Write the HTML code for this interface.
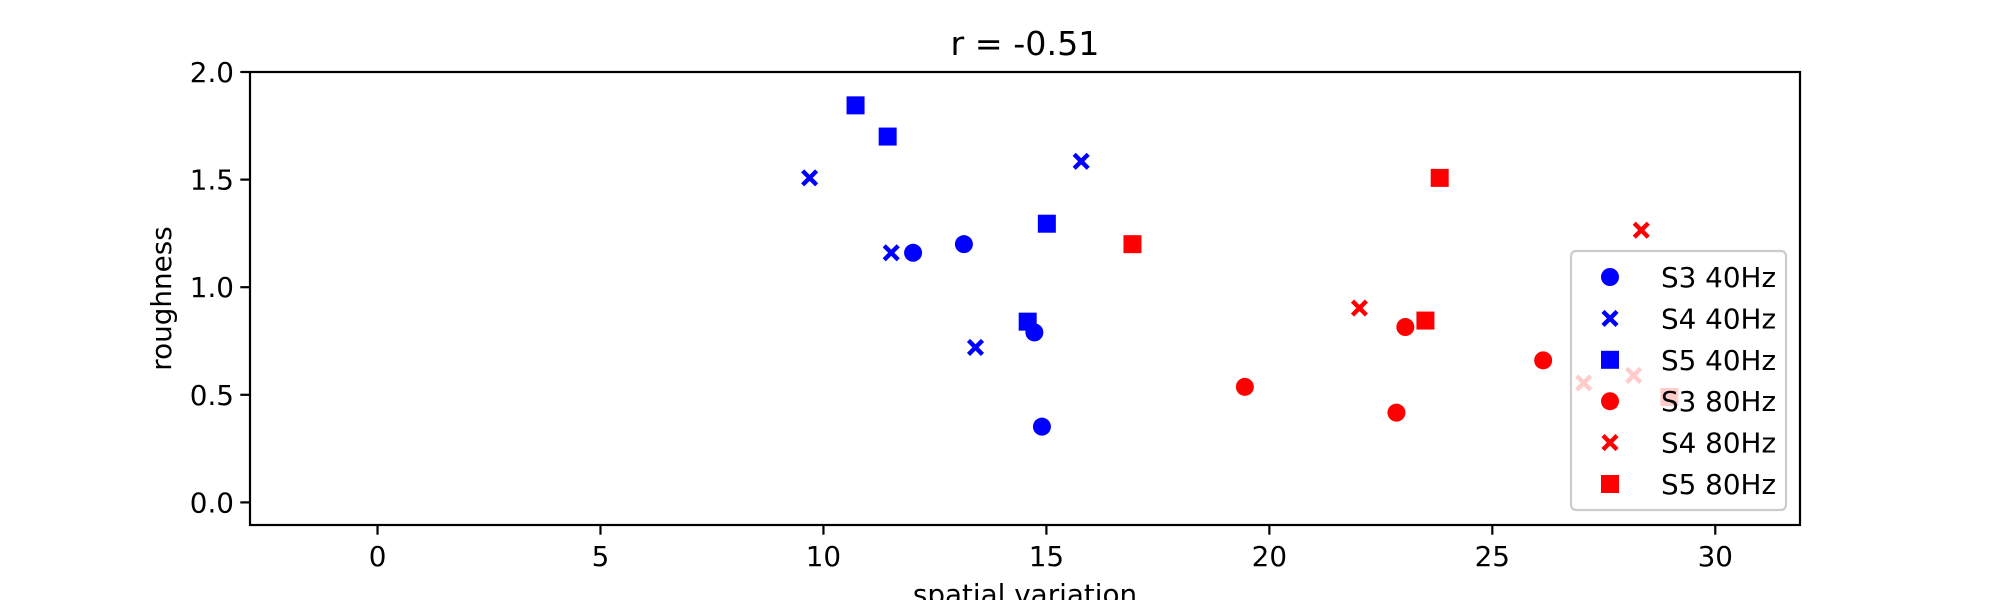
<!DOCTYPE html>
<html><head><meta charset="utf-8"><style>
html,body{margin:0;padding:0;background:#fff}
svg text{font-family:"DejaVu Sans","Liberation Sans",sans-serif;fill:#000}
</style></head><body>
<svg id="chart" width="2000" height="600" viewBox="0 0 2000 600" xmlns="http://www.w3.org/2000/svg">
<rect width="2000" height="600" fill="#fff"/>
<g id="marks"></g>
<g id="axes"></g>
<g id="legend"></g>
</svg>
<script>
const xTicks = [0, 5, 10, 15, 20, 25, 30];
const yTicks = [0.0, 0.5, 1.0, 1.5, 2.0];
const seriesNames = ["S3 40Hz", "S4 40Hz", "S5 40Hz", "S3 80Hz", "S4 80Hz", "S5 80Hz"];
const seriesColors = ["#0000ff", "#0000ff", "#0000ff", "#ff0000", "#ff0000", "#ff0000"];
const seriesShapes = ["circle", "x", "square", "circle", "x", "square"];
const s3_40x = [12.01, 13.15, 14.73, 14.90];
const s3_40y = [1.16, 1.20, 0.79, 0.352];
const s4_40x = [9.69, 11.52, 13.41, 15.78];
const s4_40y = [1.508, 1.16, 0.72, 1.585];
const s5_40x = [10.72, 11.44, 15.01, 14.58];
const s5_40y = [1.845, 1.70, 1.295, 0.84];
const s3_80x = [19.45, 22.85, 23.05, 26.14];
const s3_80y = [0.537, 0.417, 0.815, 0.66];
const s4_80x = [22.02, 28.34, 27.05, 28.17];
const s4_80y = [0.903, 1.265, 0.555, 0.59];
const s5_80x = [16.93, 23.5, 23.82, 28.97];
const s5_80y = [1.20, 0.845, 1.508, 0.49];
const seriesX = [s3_40x, s4_40x, s5_40x, s3_80x, s4_80x, s5_80x];
const seriesY = [s3_40y, s4_40y, s5_40y, s3_80y, s4_80y, s5_80y];

const L = 250, R = 1800, T = 72, B = 525;
const xMin = -2.86, xMax = 31.9, yMin = -0.105, yMax = 2.0;
const xs = v => L + (v - xMin) / (xMax - xMin) * (R - L);
const ys = v => B - (v - yMin) / (yMax - yMin) * (B - T);
const NS = "http://www.w3.org/2000/svg";
function mk(tag, attrs, parent) {
  const e = document.createElementNS(NS, tag);
  for (const k in attrs) e.setAttribute(k, attrs[k]);
  parent.appendChild(e);
  return e;
}
function marker(shape, cx, cy, color, parent) {
  const r = 9;
  let e;
  if (shape === "circle") e = mk("circle", {cx: cx, cy: cy, r: r, fill: color}, parent);
  else if (shape === "square") e = mk("rect", {x: cx - r, y: cy - r, width: 2 * r, height: 2 * r, fill: color}, parent);
  else {
    const d = 7;
    e = mk("path", {d: `M${cx-d},${cy-d}L${cx+d},${cy+d}M${cx-d},${cy+d}L${cx+d},${cy-d}`, stroke: color, "stroke-width": 4.4, fill: "none"}, parent);
  }
  return e;
}
const marks = document.getElementById("marks");
seriesNames.forEach((n, i) => {
  const g = mk("g", {}, marks);
  
  
  seriesX[i].forEach((xv, j) => {
    const m = marker(seriesShapes[i], xs(xv), ys(seriesY[i][j]), seriesColors[i], g);
    
    
  });
});
const axes = document.getElementById("axes");
const frame = mk("rect", {x: L, y: T, width: R - L, height: B - T, fill: "none", stroke: "#000", "stroke-width": 2.2}, axes);


xTicks.forEach(t => {
  const x = xs(t);
  const tk = mk("line", {x1: x, x2: x, y1: B, y2: B + 9.7, stroke: "#000", "stroke-width": 2.2}, axes);
  
  
  const lb = mk("text", {x: x, y: 566, "text-anchor": "middle", "font-size": 27.8}, axes);
  lb.textContent = String(t);
  
  
});
yTicks.forEach(t => {
  const y = ys(t);
  const tk = mk("line", {x1: L - 9.7, x2: L, y1: y, y2: y, stroke: "#000", "stroke-width": 2.2}, axes);
  
  
  const lb = mk("text", {x: 234, y: y + 10, "text-anchor": "end", "font-size": 27.8}, axes);
  lb.textContent = t.toFixed(1);
  
  
});
const xl = mk("text", {x: (L + R) / 2, y: 604, "text-anchor": "middle", "font-size": 27.8}, axes);
xl.textContent = "spatial variation";


const yl = mk("text", {x: 0, y: 0, "text-anchor": "middle", "font-size": 27.8, transform: `translate(171,${(T + B) / 2}) rotate(-90)`}, axes);
yl.textContent = "roughness";


const tt = mk("text", {x: (L + R) / 2, y: 55, "text-anchor": "middle", "font-size": 33.3}, axes);
tt.textContent = "r = -0.51";



const leg = document.getElementById("legend");
const box = mk("rect", {x: 1571, y: 251, width: 215, height: 259, rx: 5, fill: "#fff", "fill-opacity": 0.8, stroke: "#cccccc", "stroke-width": 2.2}, leg);


seriesNames.forEach((n, i) => {
  const y = 277 + i * 41.4;
  const g = mk("g", {}, leg);
  
  
  marker(seriesShapes[i], 1610, y, seriesColors[i], g);
  const t = mk("text", {x: 1661, y: y + 10, "font-size": 27.8}, g);
  t.textContent = n;
});
</script>
</body></html>
